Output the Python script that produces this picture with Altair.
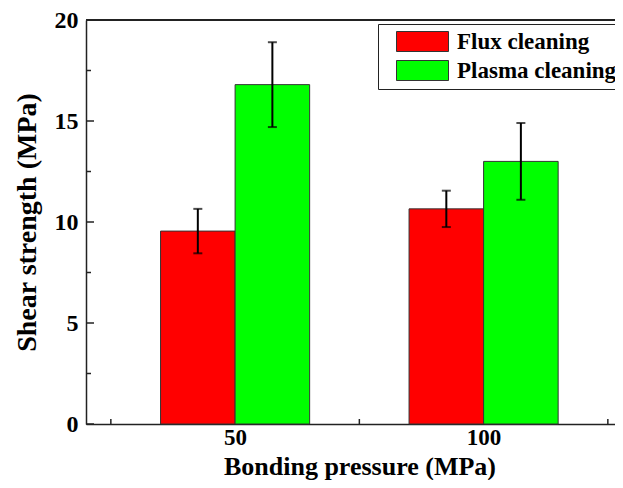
import json
import altair as alt
import pandas as pd

# ---- data ----
pressures = ["50", "100"]
methods = ["Flux cleaning", "Plasma cleaning"]
flux_mean = [9.55, 10.65]
flux_err = [1.1, 0.9]
plasma_mean = [16.8, 13.0]
plasma_err = [2.1, 1.9]
colors = ["#ff0000", "#00ff00"]
y_major = [0, 5, 10, 15, 20]
y_minor = [2.5, 7.5, 12.5, 17.5]
x_minor = [0.5, 1.5, 2.5]

W, H = 529, 404
FONT = "Liberation Serif"
X_TITLE = "Bonding pressure (MPa)"
Y_TITLE = "Shear strength (MPa)"

rows = []
for i, p in enumerate(pressures):
    rows.append(dict(pressure=p, group=i + 1, method=methods[0], slot=0,
                     mean=flux_mean[i], err=flux_err[i]))
    rows.append(dict(pressure=p, group=i + 1, method=methods[1], slot=1,
                     mean=plasma_mean[i], err=plasma_err[i]))
df = pd.DataFrame(rows)

xs = alt.Scale(domain=[0.4, 0.4 + W / 248.5], nice=False, zero=False)
ys = alt.Scale(domain=[0, 20], nice=False)

label_expr = json.dumps(pressures) + "[datum.value - 1]"
xaxis = alt.Axis(values=[1, 2], labelExpr=label_expr, ticks=False,
                 labelPadding=2, labelFontSize=23,
                 titleX=273.5, titleY=50, titleFontSize=26,
                 titleBaseline="alphabetic")
yaxis = alt.Axis(values=y_major, ticks=False, labelPadding=8,
                 titleX=-51, titleY=H / 2, titleBaseline="alphabetic")

base = alt.Chart(df).transform_calculate(
    x0="datum.group - 0.3 + 0.3 * datum.slot",
    x1="datum.group + 0.3 * datum.slot",
    xc="datum.group - 0.15 + 0.3 * datum.slot",
    lo="datum.mean - datum.err",
    hi="datum.mean + datum.err",
)

bars = base.mark_rect(stroke="#333333", strokeWidth=1).encode(
    x=alt.X("x0:Q", scale=xs, axis=xaxis, title=X_TITLE),
    x2="x1:Q",
    y=alt.Y("mean:Q", scale=ys, axis=yaxis, title=Y_TITLE),
    y2=alt.datum(0),
    color=alt.Color("method:N", scale=alt.Scale(domain=methods, range=colors),
                    legend=alt.Legend(
                        orient="none", legendX=292, legendY=4, title=None,
                        strokeColor="#222222", fillColor="white", padding=6,
                        symbolType="M-2.6,-1H2.6V1H-2.6Z", symbolSize=400,
                        symbolStrokeColor="#333333", symbolStrokeWidth=1,
                        symbolOpacity=1,
                        symbolOffset=27, labelOffset=23, rowPadding=4,
                        labelFont=FONT, labelFontSize=23, labelFontWeight="bold",
                        labelColor="black", labelLimit=400)),
)

err_rule = base.mark_rule(color="black", strokeWidth=2).encode(
    x=alt.X("xc:Q", scale=xs, axis=xaxis, title=X_TITLE),
    y=alt.Y("lo:Q", scale=ys, axis=yaxis, title=Y_TITLE),
    y2="hi:Q",
)

caps = base.transform_fold(["lo", "hi"], as_=["end", "val"]).mark_tick(
    color="black", thickness=2, size=9, orient="horizontal").encode(
    x=alt.X("xc:Q", scale=xs, axis=xaxis, title=X_TITLE),
    y=alt.Y("val:Q", scale=ys, axis=yaxis, title=Y_TITLE),
)

tick_color = "#222222"
ymaj = alt.Chart(pd.DataFrame({"v": y_major})).mark_rule(
    color=tick_color, strokeWidth=1.5).encode(
    y=alt.Y("v:Q", scale=ys, axis=yaxis, title=Y_TITLE),
    x=alt.value(0), x2=alt.value(8))
ymin = alt.Chart(pd.DataFrame({"v": y_minor})).mark_rule(
    color=tick_color, strokeWidth=1.5).encode(
    y=alt.Y("v:Q", scale=ys, axis=yaxis, title=Y_TITLE),
    x=alt.value(0), x2=alt.value(5))
xmin = alt.Chart(pd.DataFrame({"v": x_minor})).mark_rule(
    color=tick_color, strokeWidth=1.5).encode(
    x=alt.X("v:Q", scale=xs, axis=xaxis, title=X_TITLE),
    y=alt.value(H), y2=alt.value(H - 5))
top = alt.Chart(pd.DataFrame({"a": [0]})).mark_rule(
    color=tick_color, strokeWidth=2).encode(
    x=alt.value(0), x2=alt.value(W), y=alt.value(0))

chart = alt.layer(bars, err_rule, caps, ymaj, ymin, xmin, top).properties(
    width=W, height=H,
    autosize=alt.AutoSizeParams(type="none"),
    padding={"left": 78, "top": 12, "right": 0, "bottom": 56},
).configure_view(stroke=None).configure_axis(
    grid=False, domainColor=tick_color, domainWidth=1.5,
    labelFont=FONT, labelFontSize=24, labelFontWeight="bold", labelColor="black",
    titleFont=FONT, titleFontSize=28, titleFontWeight="bold", titleColor="black",
)

chart.save("out.html", embed_options={"renderer": "svg", "actions": False})
